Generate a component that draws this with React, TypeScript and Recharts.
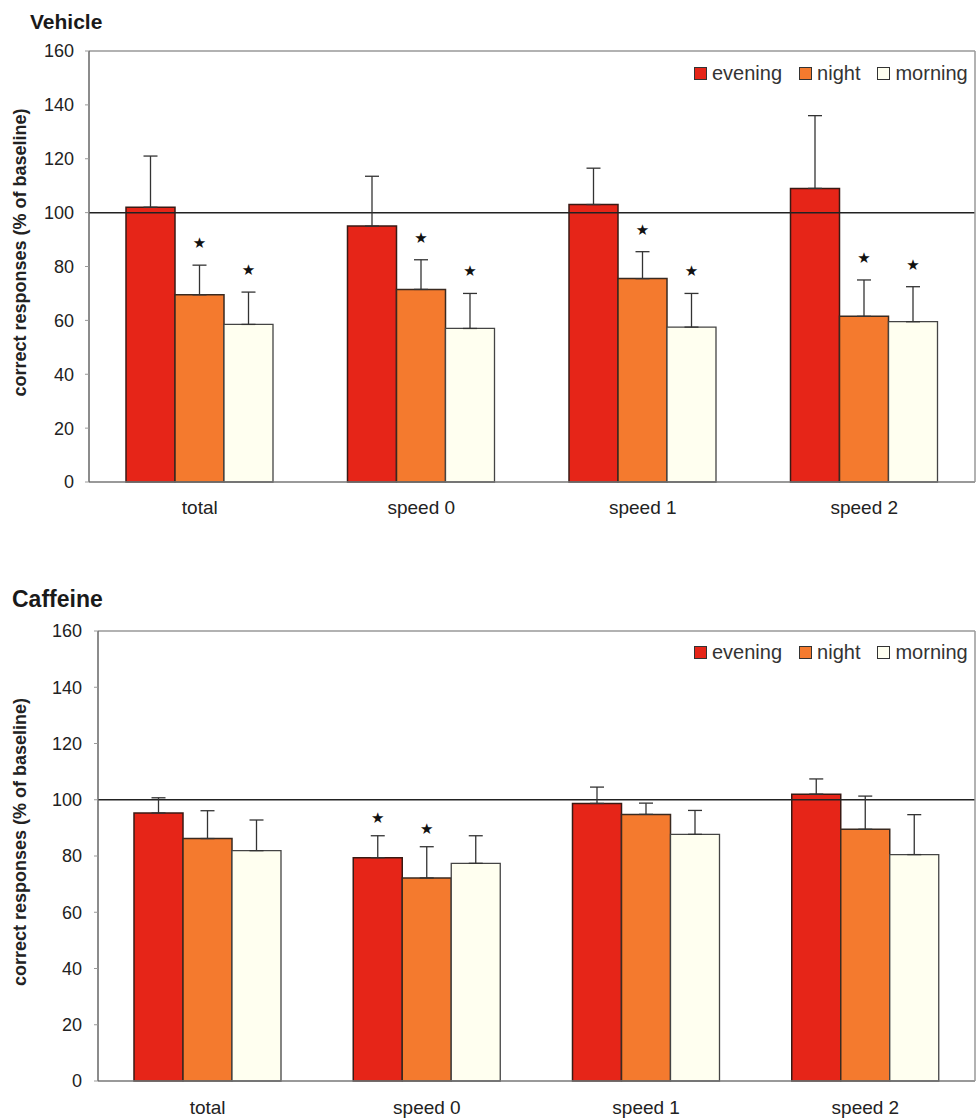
import {
  Bar,
  BarChart,
  ErrorBar,
  LabelList,
  Legend,
  ReferenceLine,
  XAxis,
  YAxis,
} from "recharts";

const categories = ["total", "speed 0", "speed 1", "speed 2"];
const yTicks = [0, 20, 40, 60, 80, 100, 120, 140, 160];
const legendOrder = ["evening", "night", "morning"];

const vehicleEvening = [102, 95, 103, 109];
const vehicleEveningErr = [19, 18.5, 13.5, 27];
const vehicleNight = [69.5, 71.5, 75.5, 61.5];
const vehicleNightErr = [11, 11, 10, 13.5];
const vehicleMorning = [58.5, 57, 57.5, 59.5];
const vehicleMorningErr = [12, 13, 12.5, 13];
const vehicleEveningStar = [false, false, false, false];
const vehicleNightStar = [true, true, true, true];
const vehicleMorningStar = [true, true, true, true];

const caffeineEvening = [95.3, 79.4, 98.7, 102];
const caffeineEveningErr = [5.4, 7.8, 5.8, 5.4];
const caffeineNight = [86.2, 72.2, 94.8, 89.5];
const caffeineNightErr = [9.9, 11.1, 4, 11.8];
const caffeineMorning = [81.9, 77.4, 87.7, 80.5];
const caffeineMorningErr = [10.9, 9.8, 8.5, 14.2];
const caffeineEveningStar = [false, true, false, false];
const caffeineNightStar = [false, true, false, false];
const caffeineMorningStar = [false, false, false, false];

const colors = {
  evening: "#e62518",
  night: "#f47a2e",
  morning: "#fffff0",
};

const font = "'Liberation Sans', Arial, sans-serif";

interface SeriesSet {
  evening: number[];
  eveningErr: number[];
  eveningStar: boolean[];
  night: number[];
  nightErr: number[];
  nightStar: boolean[];
  morning: number[];
  morningErr: number[];
  morningStar: boolean[];
}

function buildRows(s: SeriesSet) {
  return categories.map((name, i) => ({
    name,
    evening: s.evening[i],
    eveningErr: [0, s.eveningErr[i]],
    night: s.night[i],
    nightErr: [0, s.nightErr[i]],
    morning: s.morning[i],
    morningErr: [0, s.morningErr[i]],
  }));
}

function starLabel(errs: number[], flags: boolean[], gap: number) {
  return (props: any) => {
    const { x, y, width, height, value, index } = props;
    if (!flags[index]) return null;
    const scale = Number(height) / Number(value);
    const top = Number(y) - errs[index] * scale;
    return (
      <text
        x={Number(x) + Number(width) / 2}
        y={top - gap}
        textAnchor="middle"
        dominantBaseline="central"
        fontSize={15}
        fontFamily="DejaVu Sans"
        fill="#111"
      >
        ★
      </text>
    );
  };
}

function LegendContent({ payload }: any) {
  const items = [...(payload || [])].sort(
    (a: any, b: any) => legendOrder.indexOf(a.value) - legendOrder.indexOf(b.value),
  );
  return (
    <div style={{ display: "flex", alignItems: "center", fontFamily: font, fontSize: 20, color: "#333" }}>
      {items.map((item: any) => (
        <div key={item.value} style={{ display: "flex", alignItems: "center", marginRight: 17 }}>
          <span
            style={{
              display: "inline-block",
              width: 11,
              height: 11,
              border: "1px solid #333",
              background: item.color,
              marginRight: 5,
            }}
          />
          {item.value}
        </div>
      ))}
    </div>
  );
}

interface PanelProps {
  series: SeriesSet;
  height: number;
  marginTop: number;
  axisWidth: number;
  xAxisHeight: number;
  xTickMargin: number;
  yTickMargin: number;
  starGap: number;
  legendTop: number;
}

function Panel({ series, height, marginTop, axisWidth, xAxisHeight, xTickMargin, yTickMargin, starGap, legendTop }: PanelProps) {
  const rows = buildRows(series);
  return (
    <BarChart
      width={979}
      height={height}
      data={rows}
      margin={{ top: marginTop, right: 3, bottom: 0, left: 0 }}
      barGap={0}
      barSize={49}
    >
      <XAxis
        dataKey="name"
        height={xAxisHeight}
        tickLine={false}
        tickSize={0}
        tickMargin={xTickMargin}
        axisLine={{ stroke: "#777", strokeWidth: 1.5 }}
        tick={{ fill: "#222", fontSize: 19, fontFamily: font }}
      />
      <XAxis xAxisId="top" dataKey="name" orientation="top" height={1} tick={false} tickLine={false} axisLine={{ stroke: "#999", strokeWidth: 1.5 }} />
      <YAxis
        domain={[0, 160]}
        ticks={yTicks}
        width={axisWidth}
        tickSize={4}
        tickMargin={yTickMargin}
        interval={0}
        tickLine={{ stroke: "#999" }}
        axisLine={{ stroke: "#666", strokeWidth: 1.5 }}
        tick={{ fill: "#222", fontSize: 18, fontFamily: font }}
        label={{
          value: "correct responses (% of baseline)",
          content: ({ viewBox }: any) => {
            const cx = 20;
            const cy = viewBox.y + viewBox.height / 2 - 14;
            return (
              <text
                x={cx}
                y={cy}
                transform={`rotate(-90, ${cx}, ${cy})`}
                textAnchor="middle"
                dominantBaseline="central"
                fontFamily={font}
                fontWeight="bold"
                fontSize={18}
                fill="#222"
              >
                correct responses (% of baseline)
              </text>
            );
          },
        }}
      />
      <YAxis yAxisId="r" orientation="right" domain={[0, 160]} width={1} tick={false} tickLine={false} axisLine={{ stroke: "#999", strokeWidth: 1.5 }} />
      <Legend
        layout="vertical"
        align="center"
        verticalAlign="middle"
        content={<LegendContent />}
        wrapperStyle={{ top: legendTop, left: 694, width: 290 }}
      />
      <ReferenceLine y={100} stroke="#222" strokeWidth={1.5} />
      <Bar dataKey="evening" name="evening" fill={colors.evening} stroke="#3a1a14" strokeWidth={1.5} isAnimationActive={false}>
        <ErrorBar dataKey="eveningErr" direction="y" width={7} stroke="#333" strokeWidth={1.3} />
        <LabelList dataKey="evening" content={starLabel(series.eveningErr, series.eveningStar, starGap)} />
      </Bar>
      <Bar dataKey="night" name="night" fill={colors.night} stroke="#3a2a20" strokeWidth={1.5} isAnimationActive={false}>
        <ErrorBar dataKey="nightErr" direction="y" width={7} stroke="#333" strokeWidth={1.3} />
        <LabelList dataKey="night" content={starLabel(series.nightErr, series.nightStar, starGap)} />
      </Bar>
      <Bar dataKey="morning" name="morning" fill={colors.morning} stroke="#444" strokeWidth={1.3} isAnimationActive={false}>
        <ErrorBar dataKey="morningErr" direction="y" width={7} stroke="#333" strokeWidth={1.3} />
        <LabelList dataKey="morning" content={starLabel(series.morningErr, series.morningStar, starGap)} />
      </Bar>
    </BarChart>
  );
}

const vehicle: SeriesSet = {
  evening: vehicleEvening,
  eveningErr: vehicleEveningErr,
  eveningStar: vehicleEveningStar,
  night: vehicleNight,
  nightErr: vehicleNightErr,
  nightStar: vehicleNightStar,
  morning: vehicleMorning,
  morningErr: vehicleMorningErr,
  morningStar: vehicleMorningStar,
};

const caffeine: SeriesSet = {
  evening: caffeineEvening,
  eveningErr: caffeineEveningErr,
  eveningStar: caffeineEveningStar,
  night: caffeineNight,
  nightErr: caffeineNightErr,
  nightStar: caffeineNightStar,
  morning: caffeineMorning,
  morningErr: caffeineMorningErr,
  morningStar: caffeineMorningStar,
};

export default function App() {
  return (
    <div style={{ position: "absolute", left: 0, top: 0, width: 979, height: 1119, background: "#fff", fontFamily: font }}>
      <div style={{ position: "absolute", left: 30, top: 11, fontSize: 21, fontWeight: "bold", lineHeight: 1, color: "#1a1a1a" }}>
        Vehicle
      </div>
      <div style={{ position: "absolute", left: 0, top: 0 }}>
        <Panel
          series={vehicle}
          height={540}
          marginTop={50}
          axisWidth={89}
          xAxisHeight={58}
          xTickMargin={19}
          yTickMargin={11}
          starGap={22}
          legendTop={62}
        />
      </div>
      <div style={{ position: "absolute", left: 12, top: 588, fontSize: 23, fontWeight: "bold", lineHeight: 1, color: "#1a1a1a" }}>
        Caffeine
      </div>
      <div style={{ position: "absolute", left: 0, top: 560 }}>
        <Panel
          series={caffeine}
          height={559}
          marginTop={70}
          axisWidth={98}
          xAxisHeight={38}
          xTickMargin={20}
          yTickMargin={12}
          starGap={18}
          legendTop={81}
        />
      </div>
    </div>
  );
}
